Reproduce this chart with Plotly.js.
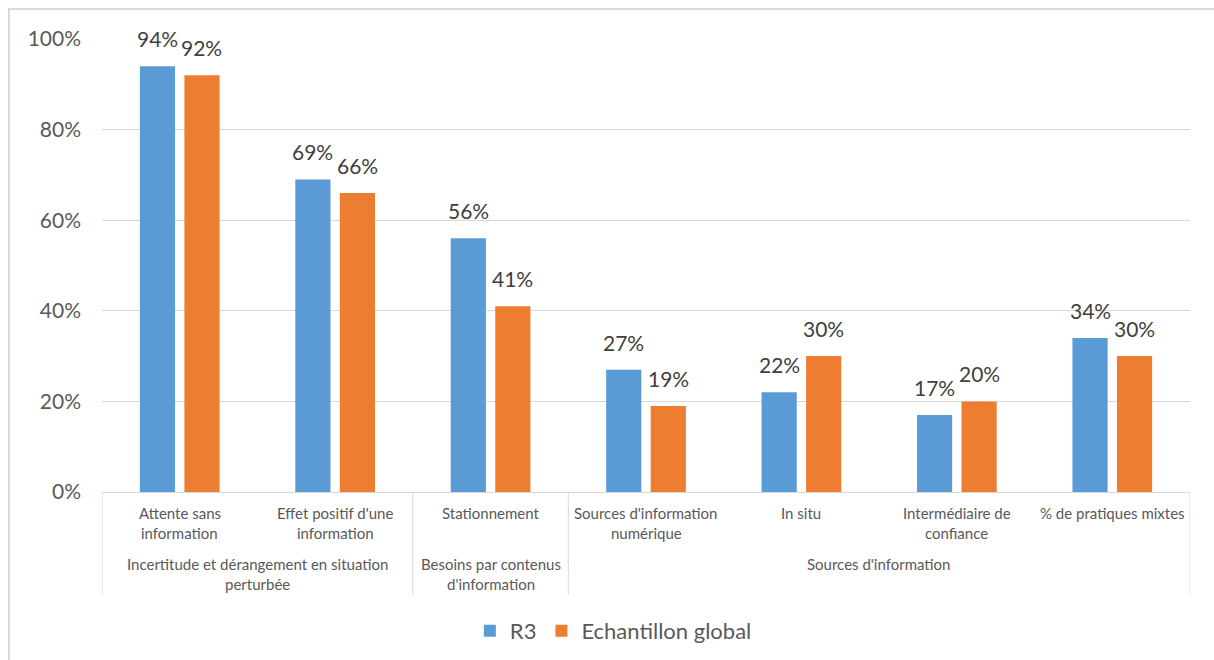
<!DOCTYPE html>
<html>
<head>
<meta charset="utf-8">
<script src="https://cdn.plot.ly/plotly-3.0.1.min.js"></script>
<style>
html, body { margin: 0; padding: 0; background: #ffffff; }
#frame { position: absolute; left: 8px; top: 8px; width: 1220px; height: 670px; border-left: 2px solid #d9d9d9; border-top: 2px solid #d9d9d9; box-sizing: border-box; pointer-events: none; z-index: 5; }
#chart { position: absolute; left: 0; top: 0; width: 1214px; height: 660px; }
</style>
</head>
<body>
<div id="chart"></div>
<div id="frame"></div>
<script>
// ---- Data ----
const categories = [
  "Attente sans<br>information",
  "Effet positif d'une<br>information",
  "Stationnement",
  "Sources d'information<br>numérique",
  "In situ",
  "Intermédiaire de<br>confiance",
  "% de pratiques mixtes"
];
const groupLabels = [
  "Incertitude et dérangement en situation<br>perturbée",
  "Besoins par contenus<br>d'information",
  "Sources d'information"
];
const groupStart = [0, 2, 3];
const groupEnd = [1, 2, 6];
const seriesNames = ["R3", "Echantillon global"];
const r3Values = [94, 69, 56, 27, 22, 17, 34];
const globalValues = [92, 66, 41, 19, 30, 20, 30];
const yTickValues = [0, 20, 40, 60, 80, 100];

// ---- Layout constants ----
const W = 1214, H = 660;
const M = {l: 102, r: 24, t: 39, b: 168, autoexpand: false};
const plotH = H - M.t - M.b;
const plotW = W - M.l - M.r;
const px2paper = p => p / plotH;
const fontFamily = "Lato, 'Open Sans', sans-serif";
const bargap = 0.427, bargroupgap = 0.21;

const xIdx = categories.map((_, i) => i);

const traces = [
  {
    type: "bar", name: seriesNames[0], x: xIdx, y: r3Values,
    marker: {color: "#5B9BD5"}, hoverinfo: "skip"
  },
  {
    type: "bar", name: seriesNames[1], x: xIdx, y: globalValues,
    marker: {color: "#ED7D31"}, hoverinfo: "skip"
  }
];

const annotations = [];
// data labels above each bar (offset to the bar's slot within its group)
const catPx = plotW / categories.length;
const slotPx = catPx * (1 - bargap) / 2;
[r3Values, globalValues].forEach((vals, s) => {
  const shift = (s === 0 ? -0.5 : 0.5) * slotPx;
  vals.forEach((v, i) => {
    annotations.push({
      x: i, xref: "x", y: v, yref: "y", xshift: shift, yshift: 13,
      yanchor: "bottom", xanchor: "center", text: v + "%", showarrow: false,
      font: {family: fontFamily, size: 21, color: "#404040"}
    });
  });
});

const lineFont = {family: fontFamily, size: 15, color: "#595959"};
categories.forEach((c, i) => {
  c.split("<br>").forEach((line, k) => {
    annotations.push({
      x: i, xref: "x", y: 0, yref: "paper", yanchor: "middle", xanchor: "center",
      yshift: -21 - 20 * k, text: line, showarrow: false, font: lineFont
    });
  });
});
groupLabels.forEach((g, j) => {
  const mid = (groupStart[j] + groupEnd[j]) / 2;
  g.split("<br>").forEach((line, k) => {
    annotations.push({
      x: mid, xref: "x", y: 0, yref: "paper", yanchor: "middle", xanchor: "center",
      yshift: -72 - 20 * k, text: line, showarrow: false, font: lineFont
    });
  });
});

const shapes = [];
const boundaries = [groupStart[0] - 0.5].concat(groupEnd.map(e => e + 0.5));
boundaries.forEach(b => {
  shapes.push({
    type: "line", xref: "x", yref: "paper", x0: b, x1: b, y0: 0, y1: -px2paper(103),
    line: {color: "#d9d9d9", width: 1}
  });
});

const layout = {
  width: W, height: H,
  margin: M,
  paper_bgcolor: "#ffffff", plot_bgcolor: "#ffffff",
  font: {family: fontFamily, color: "#595959"},
  barmode: "group",
  bargap: bargap,
  bargroupgap: bargroupgap,
  showlegend: true,
  legend: {
    orientation: "h", x: 0.47, xanchor: "center", y: -px2paper(139), yanchor: "middle",
    font: {family: fontFamily, size: 22, color: "#595959"},
    itemclick: false, itemdoubleclick: false
  },
  xaxis: {
    type: "linear", range: [-0.5, categories.length - 0.5],
    showticklabels: false, showgrid: false, zeroline: false,
    showline: true, linecolor: "#d9d9d9", linewidth: 1, ticks: "", fixedrange: true
  },
  yaxis: {
    range: [0, 100], tickvals: yTickValues, ticktext: yTickValues.map(v => v + "%"),
    showgrid: true, gridcolor: "#d9d9d9", gridwidth: 1, zeroline: false,
    showline: false, ticks: "", ticklabelstandoff: 20,
    tickfont: {family: fontFamily, size: 21, color: "#595959"}, fixedrange: true
  },
  annotations: annotations,
  shapes: shapes
};

Plotly.newPlot("chart", traces, layout, {displayModeBar: false, staticPlot: true});
</script>
</body>
</html>
